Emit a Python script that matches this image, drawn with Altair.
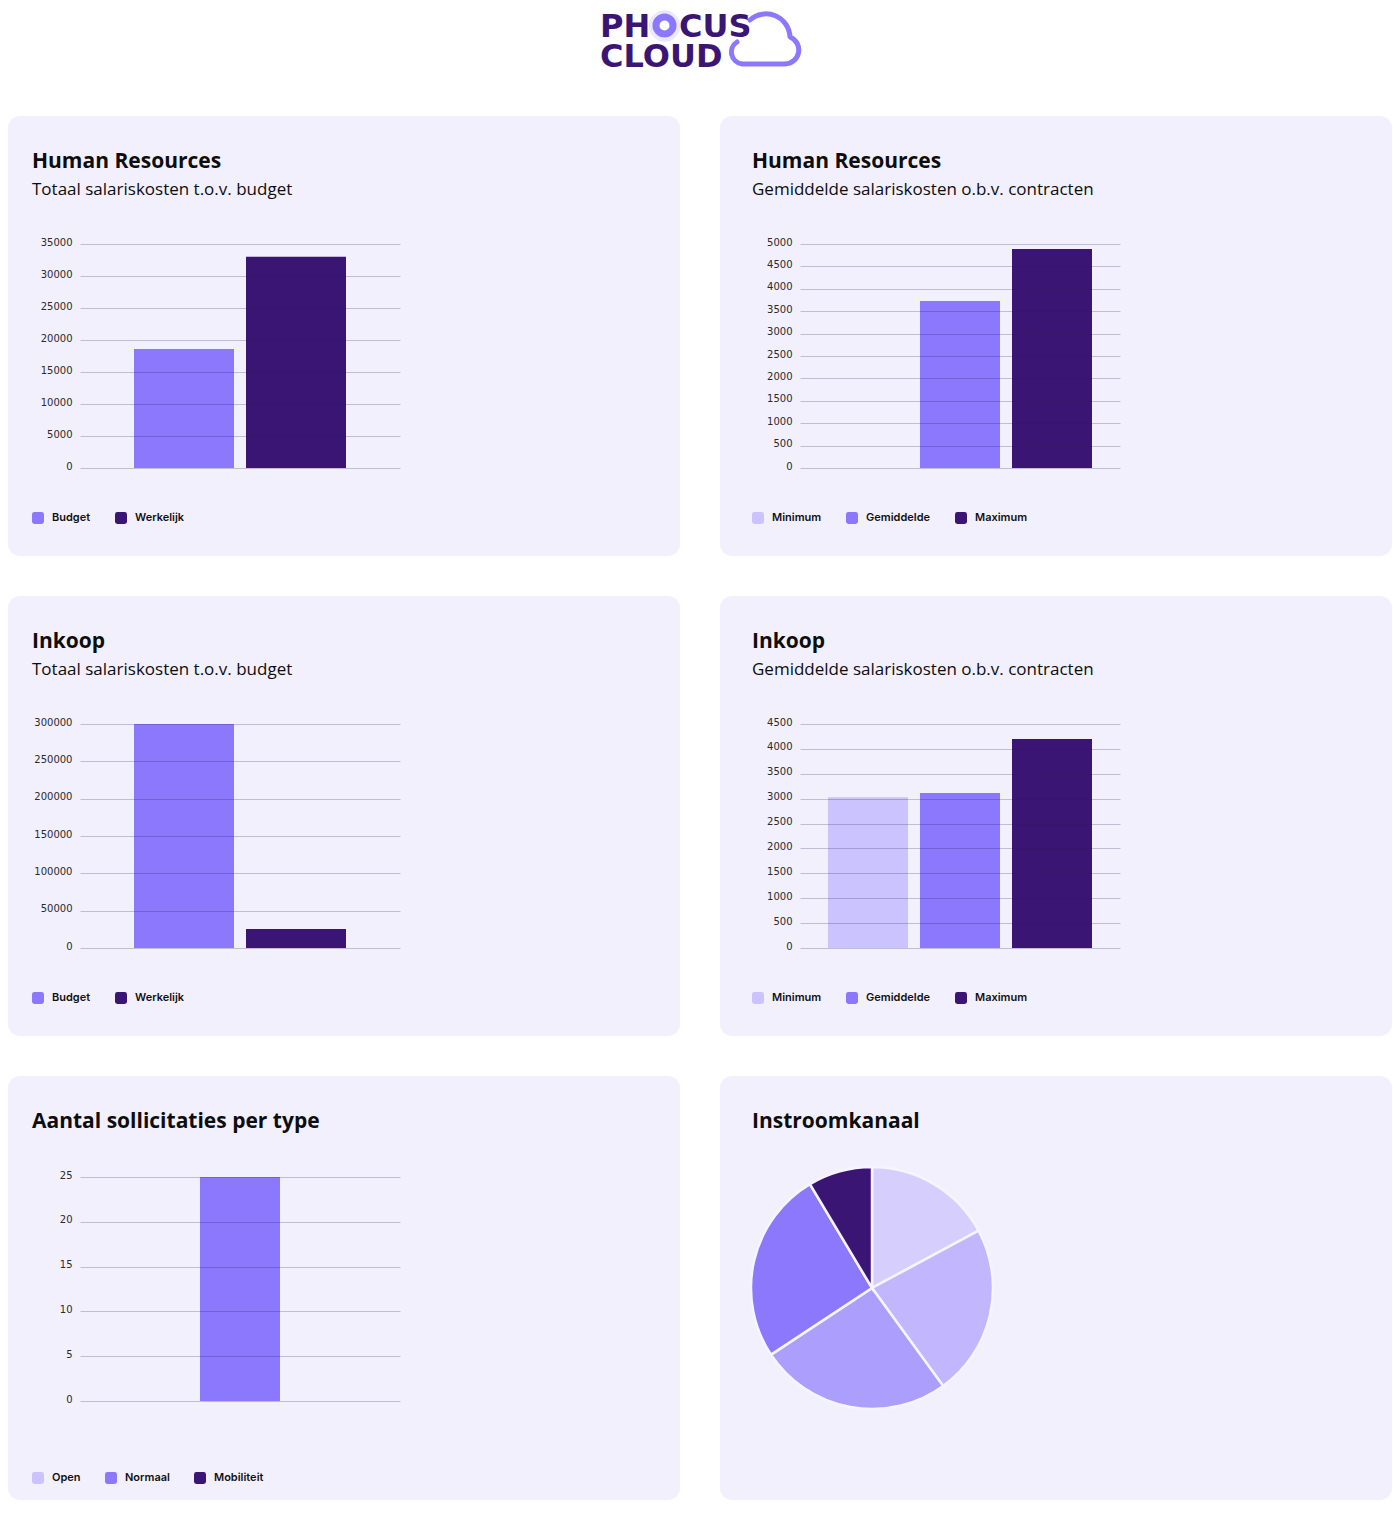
import altair as alt
import pandas as pd

# ---------------- data ----------------
hr_total_cats = ["Budget", "Werkelijk"]
hr_total_vals = [18600, 33000]
hr_total_ticks = [0, 5000, 10000, 15000, 20000, 25000, 30000, 35000]

hr_avg_cats = ["Minimum", "Gemiddelde", "Maximum"]
hr_avg_vals = [0, 3730, 4890]
hr_avg_ticks = [0, 500, 1000, 1500, 2000, 2500, 3000, 3500, 4000, 4500, 5000]

ink_total_cats = ["Budget", "Werkelijk"]
ink_total_vals = [300000, 25500]
ink_total_ticks = [0, 50000, 100000, 150000, 200000, 250000, 300000]

ink_avg_cats = ["Minimum", "Gemiddelde", "Maximum"]
ink_avg_vals = [3030, 3115, 4200]
ink_avg_ticks = [0, 500, 1000, 1500, 2000, 2500, 3000, 3500, 4000, 4500]

soll_cats = ["Open", "Normaal", "Mobiliteit"]
soll_vals = [0, 25, 0]
soll_ticks = [0, 5, 10, 15, 20, 25]

instroom_cats = ["Via familie/vrienden", "Indeed", "Werkenbij-site", "LinkedIn", "Monsterboard"]
instroom_vals = [6, 8, 9, 9, 3]

logo_lines = ["PH\u2002\u2009\u2009CUS", "CLOUD"]

# ---------------- styles ----------------
CARD_BG = "#F3F0FE"
LIGHT = "#CBC3FD"
MID = "#8C78FC"
DARK = "#3B1574"
GRID = "rgba(40,30,80,0.24)"
pie_colors = ["#D6CFFE", "#C2B7FE", "#AC9EFD", "#8C78FC", "#3B1574"]
pie_legend_colors = ["#D6CFFE", "#C2B7FE", "#7A5AA6", "#8C78FC", "#3B1574"]

TITLE_FONT = "Open Sans"
LEG_FONT = "Inter"
AXIS_FONT = "DejaVu Sans"
CW = 672            # card width (page margin eats 8px of the left card)
RSQ = ("M-1,-0.6 Q-1,-1 -0.6,-1 L0.6,-1 Q1,-1 1,-0.6 L1,0.6 Q1,1 0.6,1 "
       "L-0.6,1 Q-1,1 -1,0.6 Z")
VIEW = alt.ViewBackground(fill=CARD_BG, cornerRadius=12, stroke="transparent")


def legend_def(dx):
    return alt.Legend(
        orient="none", legendX=32 + dx, legendY=396, direction="horizontal",
        title=None, symbolType=RSQ, symbolSize=144, symbolStrokeWidth=0,
        labelFont=LEG_FONT, labelFontSize=11, labelFontWeight=600,
        labelColor="#111111", labelOffset=8, columnPadding=24, padding=0,
        symbolOpacity=1,
    )


def text_layer(txt, x, y, size, weight):
    return alt.Chart(pd.DataFrame({"t": [txt]})).mark_text(
        align="left", baseline="middle", font=TITLE_FONT, fontSize=size,
        fontWeight=weight, color="#0d0d0d"
    ).encode(x=alt.value(x), y=alt.value(y), text="t:N")


def bar_card(title, subtitle, cats, vals, colors, ticks, top, bottom, dx, h):
    df = pd.DataFrame({"cat": cats, "val": vals})
    if len(cats) == 2:
        xr, pin = [134 + dx, 346 + dx], 12 / 112
    else:
        xr, pin = [108 + dx, 372 + dx], 12 / 92
    bars = alt.Chart(df).mark_bar().encode(
        x=alt.X("cat:N", sort=cats, axis=None,
                scale=alt.Scale(domain=cats, range=xr, paddingInner=pin, paddingOuter=0)),
        y=alt.Y("val:Q",
                scale=alt.Scale(domain=[0, ticks[-1]], range=[bottom, top], nice=False, zero=True),
                axis=alt.Axis(values=ticks, format="d", orient="left", offset=-(400 + dx),
                              tickSize=320, tickWidth=1, tickColor=GRID, domain=False,
                              grid=False, labelPadding=8, labelFont=AXIS_FONT,
                              labelFontSize=10, labelColor="#2a2a2a", title=None,
                              zindex=1, labelOffset=-2, labelOverlap=False)),
        color=alt.Color("cat:N", scale=alt.Scale(domain=cats, range=colors),
                        legend=legend_def(dx)),
    )
    layers = [text_layer(title, 32 + dx, 46, 21, "bold")]
    if subtitle:
        layers.append(text_layer(subtitle, 32 + dx, 74, 17, "normal"))
    layers.append(bars)
    return alt.layer(*layers).properties(width=CW, height=h, view=VIEW)


c1 = bar_card("Human Resources", "Totaal salariskosten t.o.v. budget",
              hr_total_cats, hr_total_vals, [MID, DARK], hr_total_ticks, 128, 352, -8, 440)
c2 = bar_card("Human Resources", "Gemiddelde salariskosten o.b.v. contracten",
              hr_avg_cats, hr_avg_vals, [LIGHT, MID, DARK], hr_avg_ticks, 128, 352, 0, 440)
c3 = bar_card("Inkoop", "Totaal salariskosten t.o.v. budget",
              ink_total_cats, ink_total_vals, [MID, DARK], ink_total_ticks, 128, 352, -8, 440)
c4 = bar_card("Inkoop", "Gemiddelde salariskosten o.b.v. contracten",
              ink_avg_cats, ink_avg_vals, [LIGHT, MID, DARK], ink_avg_ticks, 128, 352, 0, 440)
c5 = bar_card("Aantal sollicitaties per type", None,
              soll_cats, soll_vals, [LIGHT, MID, DARK], soll_ticks, 101, 325, -8, 424)

# pie card
pie_df = pd.DataFrame({"src": instroom_cats, "n": instroom_vals,
                       "idx": list(range(len(instroom_cats)))})
pie = alt.Chart(pie_df).mark_arc(radius=121, stroke="#F6F4FF", strokeWidth=2.5).encode(
    theta=alt.Theta("n:Q", stack=True),
    order=alt.Order("idx:Q"),
    fill=alt.Fill("src:N", sort=instroom_cats,
                  scale=alt.Scale(domain=instroom_cats, range=pie_colors), legend=None),
    x=alt.value(152), y=alt.value(212),
)
pie_leg = alt.Chart(pie_df).mark_rect().encode(
    x=alt.value(0), x2=alt.value(0), y=alt.value(0), y2=alt.value(0),
    color=alt.Color("src:N", sort=instroom_cats,
                    scale=alt.Scale(domain=instroom_cats, range=pie_legend_colors),
                    legend=legend_def(0)),
)
c6 = alt.layer(text_layer("Instroomkanaal", 32, 46, 21, "bold"), pie, pie_leg).properties(
    width=CW, height=424, view=VIEW)

# logo
logo_txt = alt.Chart(pd.DataFrame({"k": [1]})).mark_text(
    text=logo_lines, lineHeight=30, align="left", baseline="alphabetic",
    font="DejaVu Sans", fontSize=32, fontWeight="bold", color=DARK, clip=True
).encode(x=alt.value(592), y=alt.value(29))

rings = alt.Chart(pd.DataFrame({"s": [620, 760, 920]})).mark_point(
    shape="circle", filled=False, color=MID, opacity=0.25, strokeWidth=1, clip=True
).encode(x=alt.value(656.5), y=alt.value(18), size=alt.Size("s:Q", scale=None))

o_ring = alt.Chart(pd.DataFrame({"k": [1]})).mark_point(
    shape="circle", filled=False, color=MID, opacity=1, strokeWidth=7, size=290, clip=True
).encode(x=alt.value(656.5), y=alt.value(17.5))

CLOUD = ("M-0.75,0.083 A0.333,0.333 0 0 0 -0.611,0.694 L0.583,0.694 "
         "A0.389,0.389 0 0 0 0.722,-0.056 A0.667,0.667 0 0 0 -0.389,-0.528")
cloud = alt.Chart(pd.DataFrame({"k": [1]})).mark_point(
    shape=CLOUD, filled=False, color=MID, strokeWidth=5, size=5184, opacity=1,
    strokeCap="round", strokeJoin="round", clip=True
).encode(x=alt.value(756), y=alt.value(31))

logo = alt.layer(rings, cloud, o_ring, logo_txt).properties(
    width=2 * CW + 40, height=68,
    view=alt.ViewBackground(fill="white", stroke="transparent"))


def row(a, b):
    return alt.hconcat(a, b, spacing=40).resolve_scale(
        color="independent", fill="independent", x="independent", y="independent"
    ).resolve_legend(color="independent")


chart = alt.vconcat(
    logo, row(c1, c2), row(c3, c4), row(c5, c6), spacing=40
).resolve_scale(
    color="independent", fill="independent", x="independent", y="independent"
).resolve_legend(color="independent").properties(
    padding=0,
    background="white",
).configure_view(strokeWidth=0)

chart.save("out.html", embed_options={"renderer": "svg", "actions": False})
